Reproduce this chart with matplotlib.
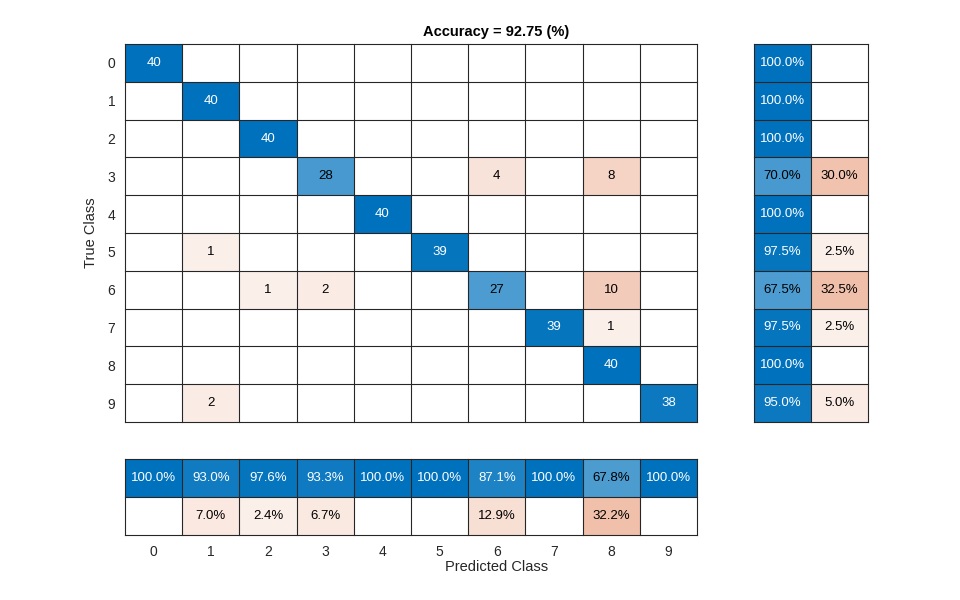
import numpy as np
import matplotlib.pyplot as plt

plt.rcParams['font.family'] = ['Liberation Sans', 'DejaVu Sans']

classes = ['0', '1', '2', '3', '4', '5', '6', '7', '8', '9']
# rows = true class, columns = predicted class
counts = np.array([
    [40, 0, 0, 0, 0, 0, 0, 0, 0, 0],
    [0, 40, 0, 0, 0, 0, 0, 0, 0, 0],
    [0, 0, 40, 0, 0, 0, 0, 0, 0, 0],
    [0, 0, 0, 28, 0, 0, 4, 0, 8, 0],
    [0, 0, 0, 0, 40, 0, 0, 0, 0, 0],
    [0, 1, 0, 0, 0, 39, 0, 0, 0, 0],
    [0, 0, 1, 2, 0, 0, 27, 0, 10, 0],
    [0, 0, 0, 0, 0, 0, 0, 39, 1, 0],
    [0, 0, 0, 0, 0, 0, 0, 0, 40, 0],
    [0, 2, 0, 0, 0, 0, 0, 0, 0, 38],
])

blue = np.array([0, 114, 189]) / 255.0
red = np.array([217, 83, 25]) / 255.0
grid_col = '#262626'
fs = 9.5


def shade(frac, base):
    # colour ramp starts a little off white, like the MATLAB chart
    t = 0.065 + 0.935 * frac
    return 1 - t * (1 - base)


def draw_panel(ax, rgb, labels, dark):
    nr, nc = rgb.shape[:2]
    ax.imshow(rgb, aspect='auto', interpolation='nearest',
              extent=(-0.5, nc - 0.5, nr - 0.5, -0.5))
    for k in range(nr + 1):
        ax.axhline(k - 0.5, color=grid_col, lw=0.8, clip_on=False)
    for k in range(nc + 1):
        ax.axvline(k - 0.5, color=grid_col, lw=0.8, clip_on=False)
    for i in range(nr):
        for j in range(nc):
            if labels[i][j]:
                ax.text(j, i, labels[i][j], ha='center', va='center', fontsize=fs,
                        color='white' if dark[i][j] else 'black')
    ax.set_xlim(-0.5, nc - 0.5)
    ax.set_ylim(nr - 0.5, -0.5)
    for s in ax.spines.values():
        s.set_visible(False)
    ax.tick_params(length=0, labelsize=fs + 0.5, colors='#262626')
    ax.set_xticks([])
    ax.set_yticks([])


n = len(classes)
vmax = counts.max()
rgb = np.ones((n, n, 3))
lab = [[''] * n for _ in range(n)]
dark = [[False] * n for _ in range(n)]
for i in range(n):
    for j in range(n):
        v = counts[i, j]
        if v == 0:
            continue
        f = v / vmax
        rgb[i, j] = shade(f, blue if i == j else red)
        lab[i][j] = str(v)
        dark[i][j] = f > 0.8

fig = plt.figure(figsize=(9.6, 6), dpi=100)
ax = fig.add_axes([125 / 960, 178 / 600, 572 / 960, 378 / 600])
draw_panel(ax, rgb, lab, dark)
ax.set_yticks(range(n))
ax.set_yticklabels(classes)
ax.tick_params(axis='y', pad=7)
ax.set_ylabel('True Class', fontsize=fs + 1, color='#262626')
ax.yaxis.set_label_coords(-27 / 572, 0.5)

# row summary (recall)
row_tot = counts.sum(axis=1)
diag = np.diag(counts)
rec = diag / row_tot
rrgb = np.ones((n, 2, 3))
rlab = [[''] * 2 for _ in range(n)]
rdark = [[False] * 2 for _ in range(n)]
for i in range(n):
    parts = [rec[i], 1 - rec[i]]
    for j, base in enumerate([blue, red]):
        if parts[j] > 1e-9:
            rrgb[i, j] = shade(parts[j], base)
            rlab[i][j] = '%.1f%%' % (100 * parts[j])
            rdark[i][j] = parts[j] > 0.8
axr = fig.add_axes([754 / 960, 178 / 600, 114 / 960, 378 / 600])
draw_panel(axr, rrgb, rlab, rdark)

# column summary (precision)
col_tot = counts.sum(axis=0)
prec = diag / col_tot
brgb = np.ones((2, n, 3))
blab = [[''] * n for _ in range(2)]
bdark = [[False] * n for _ in range(2)]
for j in range(n):
    parts = [prec[j], 1 - prec[j]]
    for i, base in enumerate([blue, red]):
        if parts[i] > 1e-9:
            brgb[i, j] = shade(parts[i], base)
            blab[i][j] = '%.1f%%' % (100 * parts[i])
            bdark[i][j] = parts[i] > 0.8
axb = fig.add_axes([125 / 960, 65 / 600, 572 / 960, 76 / 600])
draw_panel(axb, brgb, blab, bdark)
axb.set_xticks(range(n))
axb.set_xticklabels(classes)
axb.tick_params(axis='x', pad=7)

acc = diag.sum() / counts.sum() * 100
fig.text(496.5 / 960, 1 - 32 / 600, 'Accuracy = %.2f (%%)' % acc, ha='center', va='center',
         fontsize=fs + 1, fontweight='bold', color='black')
fig.text(496.5 / 960, 1 - 567 / 600, 'Predicted Class', ha='center', va='center',
         fontsize=fs + 1, color='#262626')

fig.savefig('out.png', dpi=100)
